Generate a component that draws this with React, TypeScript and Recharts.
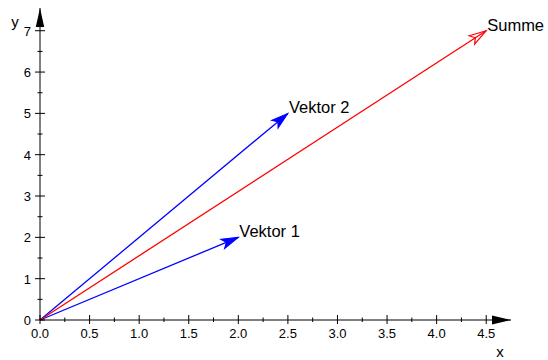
import { ComposedChart, Line, XAxis, YAxis, ReferenceDot } from 'recharts';

const xTicks = [0, 0.25, 0.5, 0.75, 1, 1.25, 1.5, 1.75, 2, 2.25, 2.5, 2.75, 3, 3.25, 3.5, 3.75, 4, 4.25, 4.5];
const yTicks = [0, 0.5, 1, 1.5, 2, 2.5, 3, 3.5, 4, 4.5, 5, 5.5, 6, 6.5, 7];
const xMax = 4.75;
const yMax = 7.55;

const vectorNames = ['Vektor 1', 'Vektor 2', 'Summe'];
const vectorX = [2, 2.5, 4.5];
const vectorY = [2, 5, 7];
const vectorColors = ['#0000ff', '#0000ff', '#ff0000'];
const vectorFilled = [true, true, false];

const FONT = '"Liberation Sans", Arial, Helvetica, sans-serif';

function XTick(props: any) {
  const { x, y, payload } = props;
  const v = payload.value as number;
  const major = Math.abs(v * 2 - Math.round(v * 2)) < 1e-6;
  return (
    <g>
      <line x1={x} x2={x} y1={y - (major ? 5 : 2.5)} y2={y + (major ? 4 : 2)} stroke="#000" />
      {major && (
        <text x={x} y={y + 18} textAnchor="middle" fontSize={13} fontFamily={FONT} fill="#000">
          {v.toFixed(1)}
        </text>
      )}
    </g>
  );
}

function YTick(props: any) {
  const { x, y, payload } = props;
  const v = payload.value as number;
  const major = Math.abs(v - Math.round(v)) < 1e-6;
  return (
    <g>
      <line x1={x - (major ? 5 : 2.5)} x2={x + (major ? 5 : 2.5)} y1={y} y2={y} stroke="#000" />
      {major && (
        <text x={x - 9} y={y + 5} textAnchor="end" fontSize={13} fontFamily={FONT} fill="#000">
          {String(v)}
        </text>
      )}
    </g>
  );
}

function makeHead(i: number) {
  return (props: any) => {
    const { cx, cy, index, points } = props;
    if (index !== 1 || !points || points.length < 2) return <g key={`d${i}-${index}`} />;
    const dx = points[1].x - points[0].x;
    const dy = points[1].y - points[0].y;
    const deg = (Math.atan2(dy, dx) * 180) / Math.PI;
    const color = vectorColors[i];
    const d = 'M0,0 L-17,-5 L-13,0 L-17,5 Z';
    return (
      <g key={`d${i}-${index}`}>
        <g transform={`translate(${cx},${cy}) rotate(${deg})`}>
          {vectorFilled[i] ? (
            <path d={d} fill={color} stroke={color} strokeWidth={1} />
          ) : (
            <path d={d} fill="none" stroke={color} strokeWidth={1.2} />
          )}
        </g>
        <text x={cx + 1} y={cy} fontSize={16.5} fontFamily={FONT} fill="#000">
          {vectorNames[i]}
        </text>
      </g>
    );
  };
}

const XArrow = (props: any) => {
  const { cx, cy } = props;
  return (
    <g>
      <path d={`M${cx},${cy} L${cx - 19},${cy - 4.5} L${cx - 19},${cy + 4.5} Z`} fill="#000" />
      <text x={cx - 11} y={cy + 37} textAnchor="middle" fontSize={15} fontFamily={FONT} fill="#000">x</text>
    </g>
  );
};

const YArrow = (props: any) => {
  const { cx, cy } = props;
  return (
    <g>
      <path d={`M${cx},${cy} L${cx - 4.2},${cy + 19} L${cx + 4.2},${cy + 19} Z`} fill="#000" />
      <text x={cx - 25} y={cy + 19} textAnchor="middle" fontSize={15} fontFamily={FONT} fill="#000">y</text>
    </g>
  );
};

export default function App() {
  return (
    <div style={{ position: 'absolute', left: 0, top: 0, background: '#fff' }}>
      <ComposedChart width={548} height={360} margin={{ top: 8, right: 37, bottom: 10, left: 0 }}>
        <XAxis
          dataKey="x"
          type="number"
          domain={[0, xMax]}
          ticks={xTicks}
          interval={0}
          height={30}
          tickSize={0}
          tickMargin={0}
          tickLine={false}
          axisLine={{ stroke: '#000' }}
          tick={<XTick />}
        />
        <YAxis
          type="number"
          domain={[0, yMax]}
          ticks={yTicks}
          interval={0}
          width={40}
          tickSize={0}
          tickMargin={0}
          tickLine={false}
          axisLine={{ stroke: '#000' }}
          tick={<YTick />}
        />
        {vectorNames.map((name, i) => (
          <Line
            key={name}
            name={name}
            data={[{ x: 0, y: 0 }, { x: vectorX[i], y: vectorY[i] }]}
            dataKey="y"
            stroke={vectorColors[i]}
            strokeWidth={1.3}
            dot={makeHead(i)}
            activeDot={false}
            isAnimationActive={false}
          />
        ))}
        <ReferenceDot x={xMax} y={0} ifOverflow="visible" shape={XArrow} />
        <ReferenceDot x={0} y={yMax} ifOverflow="visible" shape={YArrow} />
      </ComposedChart>
    </div>
  );
}
